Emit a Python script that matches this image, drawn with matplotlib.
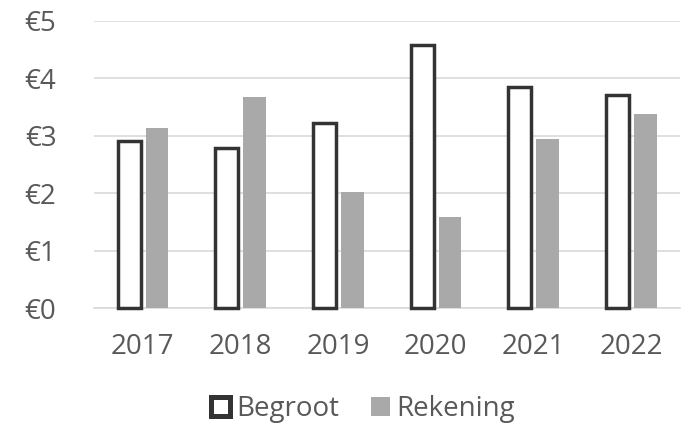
import matplotlib
matplotlib.use("Agg")
import matplotlib.pyplot as plt
from matplotlib.patches import Patch
import numpy as np

years = ["2017", "2018", "2019", "2020", "2021", "2022"]
begroot = [2.90, 2.78, 3.23, 4.57, 3.84, 3.71]
rekening = [3.14, 3.67, 2.03, 1.58, 2.94, 3.37]
yticks = [0, 1, 2, 3, 4, 5]
ytick_labels = ["€0", "€1", "€2", "€3", "€4", "€5"]

plt.rcParams['font.family'] = ['Open Sans', 'DejaVu Sans']
text_color = "#595959"
dark = "#333333"
gray = "#a9a9a9"

fig = plt.figure(figsize=(6.86, 4.25), dpi=100)
ax = fig.add_axes([94/686, 1 - 308.3/425, 586/686, (308.3 - 20.7)/425])

x = np.arange(len(years))
w = 0.235
bars = ax.bar(x - 0.14, begroot, width=w, facecolor="white", edgecolor=dark,
              linewidth=2.5, zorder=3)
for b in bars:
    b.set_clip_on(False)
ax.bar(x + 0.145, rekening, width=w, color=gray, zorder=3)

ax.set_xlim(-0.5, len(years) - 0.5)
ax.set_ylim(0, 5)
ax.set_yticks(yticks)
ax.set_yticklabels(ytick_labels)
ax.set_xticks(x)
ax.set_xticklabels(years)
ax.grid(axis="y", color="#d9d9d9", linewidth=1.2, zorder=0)
ax.set_axisbelow(True)
for s in ["top", "right", "left"]:
    ax.spines[s].set_visible(False)
ax.spines["bottom"].set_color("#d9d9d9")
ax.spines["bottom"].set_linewidth(1.2)
ax.tick_params(axis="both", length=0, labelsize=20, labelcolor=text_color)
ax.tick_params(axis="y", pad=27)
ax.tick_params(axis="x", pad=18)

handles = [Patch(facecolor="white", edgecolor=dark, linewidth=3.6, label="Begroot"),
           Patch(facecolor=gray, label="Rekening")]
leg = fig.legend(handles=handles, loc="center", bbox_to_anchor=(363/686, 1 - 409/425),
                 ncol=2, frameon=False, fontsize=20, handlelength=0.68, handleheight=0.68,
                 handletextpad=0.22, columnspacing=1.15, borderpad=0, borderaxespad=0)
for t in leg.get_texts():
    t.set_color(text_color)

fig.savefig("out.png", dpi=100)
